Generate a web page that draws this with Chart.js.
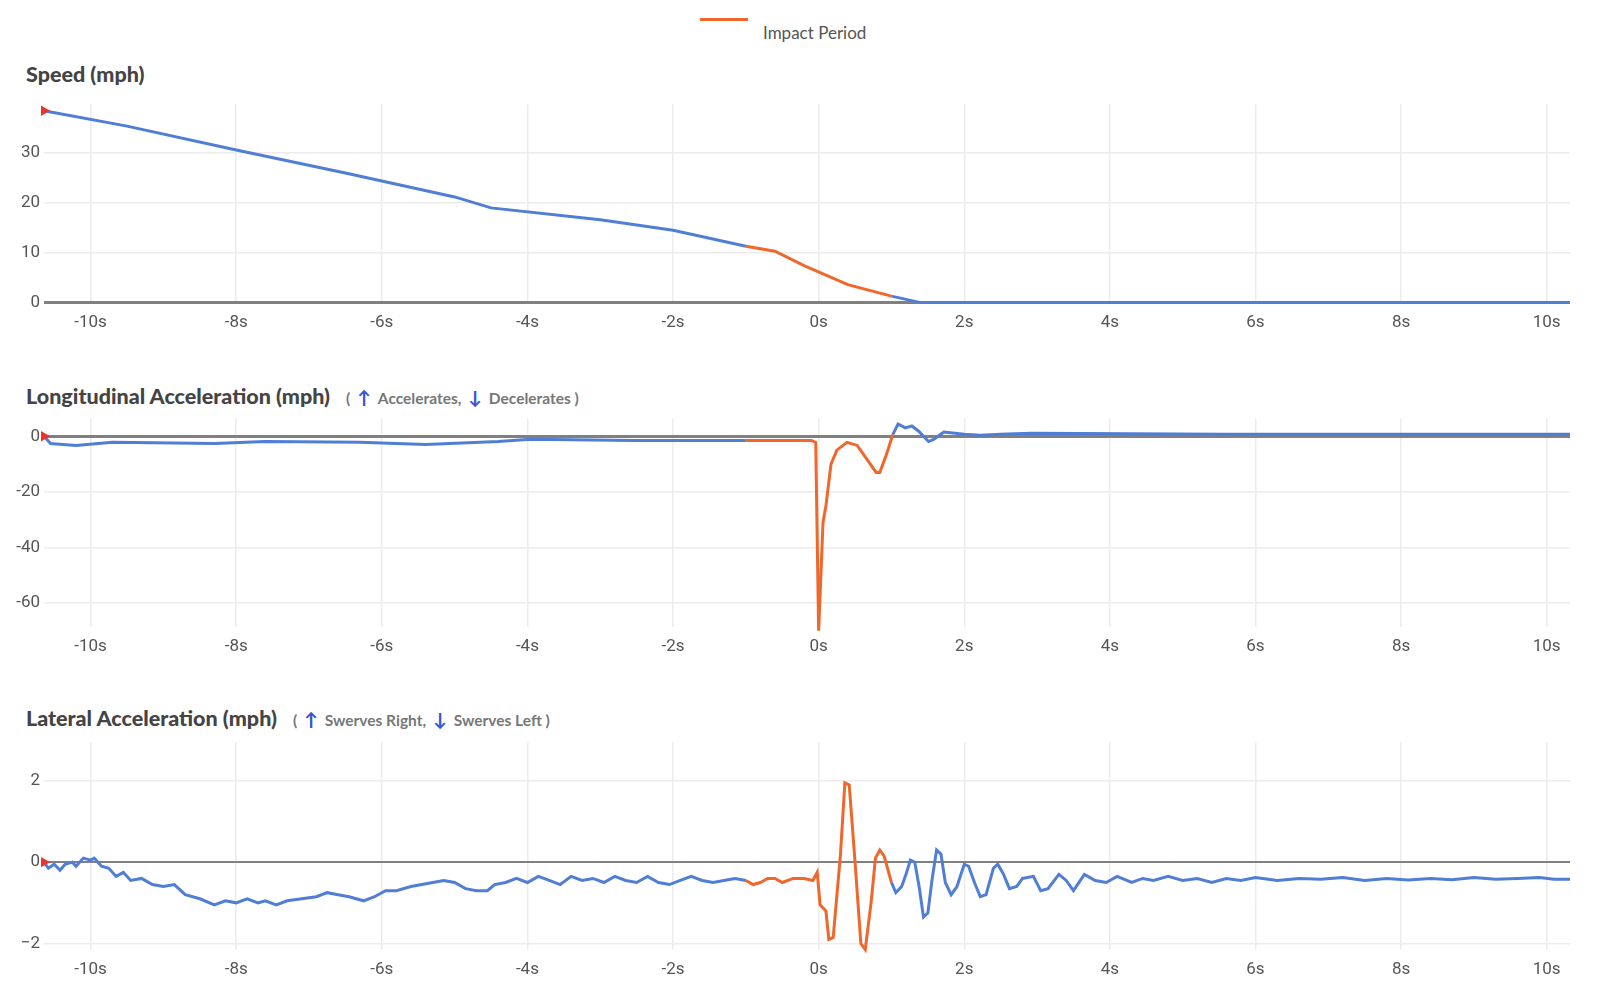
<!DOCTYPE html>
<html>
<head>
<meta charset="utf-8">
<script src="https://cdn.jsdelivr.net/npm/chart.js@4.4.1/dist/chart.umd.min.js"></script>
<style>
  body { margin: 0; background: #fff; width: 1600px; height: 1002px; position: relative; overflow: hidden; font-family: Lato, "Open Sans", sans-serif; }
  .title { position: absolute; left: 26px; font-weight: 900; font-size: 21.5px; color: #444; white-space: nowrap; }
  .title small { font-size: 15.5px; font-weight: bold; color: #777; margin-left: 16px; }
  .title small b { color: #3557d6; font-size: 18px; margin: 0 7px; }
  .wrap { position: absolute; left: 0; width: 1600px; }
  #legend { position: absolute; left: 700px; top: 14px; font-size: 17px; color: #555; }
  #legend i { position: absolute; left: 0; top: 4px; width: 48px; height: 3px; background: #f0672b; }
  #legend span { position: absolute; left: 63px; top: 8px; white-space: nowrap; }
</style>
</head>
<body>
<div id="legend"><i></i><span>Impact Period</span></div>
<div class="title" style="top:61px">Speed (mph)</div>
<div class="title" style="top:383px">Longitudinal Acceleration (mph)<small>(<b>↑</b>Accelerates,<b>↓</b>Decelerates )</small></div>
<div class="title" style="top:705px">Lateral Acceleration (mph)<small>(<b>↑</b>Swerves Right,<b>↓</b>Swerves Left )</small></div>
<div class="wrap" style="top:90px;height:253px"><canvas id="speed"></canvas></div>
<div class="wrap" style="top:404px;height:263px"><canvas id="longi"></canvas></div>
<div class="wrap" style="top:728px;height:262px"><canvas id="lat"></canvas></div>
<script>
// time axis ticks (seconds)
var timeTicks = [-10, -8, -6, -4, -2, 0, 2, 4, 6, 8, 10];
var impactStart = -1, impactEnd = 1.02;

var speedTime = [-10.64, -9.5, -8, -6.5, -5, -4.5, -3, -2, -1, -0.6, -0.2, 0.4, 1.0, 1.4, 10.32];
var speedVals = [38.5, 35.4, 30.6, 26, 21.2, 19, 16.6, 14.5, 11.3, 10.3, 7.4, 3.6, 1.3, 0, 0];
var speedTicks = [0, 10, 20, 30];

var longTime = [-10.64, -10.55, -10.2, -9.7, -8.3, -7.6, -6.3, -5.4, -4.4, -3.96, -2.55, -1.0, -0.1, -0.04, 0, 0.06, 0.1, 0.17, 0.25, 0.39, 0.53, 0.79, 0.84, 0.93, 1.02, 1.09, 1.19, 1.28, 1.37, 1.51, 1.58, 1.72, 2.0, 2.22, 2.5, 2.92, 5.58, 10.32];
var longVals = [0, -2.6, -3.3, -2.2, -2.6, -1.9, -2.2, -3, -1.9, -1.1, -1.5, -1.5, -1.5, -2.2, -70, -31, -25, -10, -5, -2.2, -3.3, -13, -13, -6.7, 0.7, 4.4, 3, 3.7, 1.9, -1.9, -1.1, 1.5, 0.7, 0.4, 0.7, 1.1, 0.7, 0.7];
var longTicks = [-60, -40, -20, 0];

var latTime = [-10.64, -10.58, -10.5, -10.42, -10.35, -10.25, -10.2, -10.1, -10.0, -9.95, -9.85, -9.75, -9.65, -9.55, -9.45, -9.3, -9.15, -9.0, -8.85, -8.7, -8.5, -8.3, -8.15, -8.0, -7.85, -7.7, -7.6, -7.45, -7.3, -7.1, -6.9, -6.75, -6.6, -6.45, -6.25, -6.1, -5.95, -5.8, -5.6, -5.45, -5.3, -5.15, -5.0, -4.85, -4.7, -4.55, -4.45, -4.3, -4.15, -4.0, -3.85, -3.7, -3.55, -3.4, -3.25, -3.1, -2.95, -2.8, -2.65, -2.5, -2.35, -2.2, -2.05, -1.9, -1.75, -1.6, -1.45, -1.3, -1.15, -1.0, -0.9, -0.8, -0.7, -0.6, -0.5, -0.35, -0.2, -0.08, -0.02, 0.02, 0.1, 0.14, 0.2, 0.3, 0.36, 0.42, 0.5, 0.58, 0.64, 0.72, 0.78, 0.84, 0.9, 1.0, 1.06, 1.14, 1.2, 1.26, 1.32, 1.38, 1.44, 1.5, 1.56, 1.62, 1.68, 1.74, 1.82, 1.9, 2.0, 2.06, 2.14, 2.22, 2.3, 2.4, 2.46, 2.54, 2.62, 2.72, 2.8, 2.95, 3.05, 3.15, 3.3, 3.4, 3.5, 3.65, 3.8, 3.95, 4.1, 4.3, 4.45, 4.6, 4.8, 5.0, 5.2, 5.4, 5.6, 5.8, 6.0, 6.3, 6.6, 6.9, 7.2, 7.5, 7.8, 8.1, 8.4, 8.7, 9.0, 9.3, 9.6, 9.9, 10.1, 10.32];
var latVals = [0, -0.15, -0.05, -0.2, -0.05, 0, -0.1, 0.1, 0.05, 0.1, -0.1, -0.15, -0.35, -0.25, -0.45, -0.4, -0.55, -0.6, -0.55, -0.8, -0.9, -1.05, -0.95, -1.0, -0.9, -1.0, -0.95, -1.05, -0.95, -0.9, -0.85, -0.75, -0.8, -0.85, -0.95, -0.85, -0.7, -0.7, -0.6, -0.55, -0.5, -0.45, -0.5, -0.65, -0.7, -0.7, -0.55, -0.5, -0.4, -0.5, -0.35, -0.45, -0.55, -0.35, -0.45, -0.4, -0.5, -0.35, -0.45, -0.5, -0.35, -0.5, -0.55, -0.45, -0.35, -0.45, -0.5, -0.45, -0.4, -0.45, -0.55, -0.5, -0.4, -0.4, -0.5, -0.4, -0.4, -0.45, -0.25, -1.05, -1.2, -1.9, -1.85, 0.2, 1.95, 1.9, 0, -2.0, -2.15, -1.0, 0.1, 0.3, 0.15, -0.5, -0.75, -0.6, -0.3, 0.05, 0, -0.6, -1.35, -1.25, -0.4, 0.3, 0.2, -0.5, -0.8, -0.6, -0.05, -0.1, -0.5, -0.85, -0.8, -0.15, -0.05, -0.3, -0.65, -0.6, -0.4, -0.35, -0.7, -0.65, -0.3, -0.45, -0.7, -0.3, -0.45, -0.5, -0.35, -0.5, -0.4, -0.45, -0.35, -0.45, -0.4, -0.5, -0.4, -0.45, -0.38, -0.45, -0.4, -0.42, -0.38, -0.45, -0.4, -0.44, -0.4, -0.43, -0.38, -0.42, -0.4, -0.38, -0.42, -0.42];
var latTicks = [-2, 0, 2];

function makeChart(id, times, vals, yMin, yMax, yTicks, zeroWidth) {
  var pts = times.map(function(t, i) { return { x: t, y: vals[i] }; });
  return new Chart(document.getElementById(id), {
    type: 'line',
    data: {
      datasets: [{
        data: pts,
        clip: false,
        borderColor: '#4f7ed4',
        borderWidth: 3,
        tension: 0,
        pointRadius: function(c) { return c.dataIndex === 0 ? 6 : 0; },
        pointStyle: 'triangle',
        rotation: 90,
        pointBackgroundColor: '#e8352a',
        pointBorderWidth: 0,
        segment: {
          borderColor: function(c) {
            return (c.p0.parsed.x >= impactStart && c.p1.parsed.x <= impactEnd) ? '#f0672b' : undefined;
          }
        }
      }]
    },
    options: {
      responsive: true,
      maintainAspectRatio: false,
      animation: false,
      layout: { padding: { top: 0, right: 30, bottom: 0, left: 0 } },
      plugins: { legend: { display: false }, tooltip: { enabled: false } },
      scales: {
        x: {
          type: 'linear', min: -10.64, max: 10.32,
          afterBuildTicks: function(a) { a.ticks = timeTicks.map(function(v) { return { value: v }; }); },
          grid: { color: '#ececec', lineWidth: 1.5, drawTicks: false },
          border: { display: false },
          ticks: { padding: 10, color: '#555', font: { family: 'Roboto', size: 17 },
                   callback: function(v) { return v + 's'; } }
        },
        y: {
          min: yMin, max: yMax,
          afterBuildTicks: function(a) { a.ticks = yTicks.map(function(v) { return { value: v }; }); },
          afterFit: function(a) { a.width = 44; },
          grid: { drawTicks: false,
                  color: function(c) { return c.tick && c.tick.value === 0 ? '#808080' : '#ececec'; },
                  lineWidth: function(c) { return c.tick && c.tick.value === 0 ? zeroWidth : 1.5; } },
          border: { display: false },
          ticks: { padding: 4, color: '#555', font: { family: 'Roboto', size: 17 },
                   callback: function(v) { return v === 0 ? '0' : (v < 0 ? (id === 'lat' ? '\u2212' + (-v) : v) : v); } }
        }
      }
    }
  });
}

makeChart('speed', speedTime, speedVals, 0, 39.8, speedTicks, 3);
makeChart('longi', longTime, longVals, -68.5, 6.5, longTicks, 3);
makeChart('lat', latTime, latVals, -2.15, 2.95, latTicks, 2);
</script>
</body>
</html>
